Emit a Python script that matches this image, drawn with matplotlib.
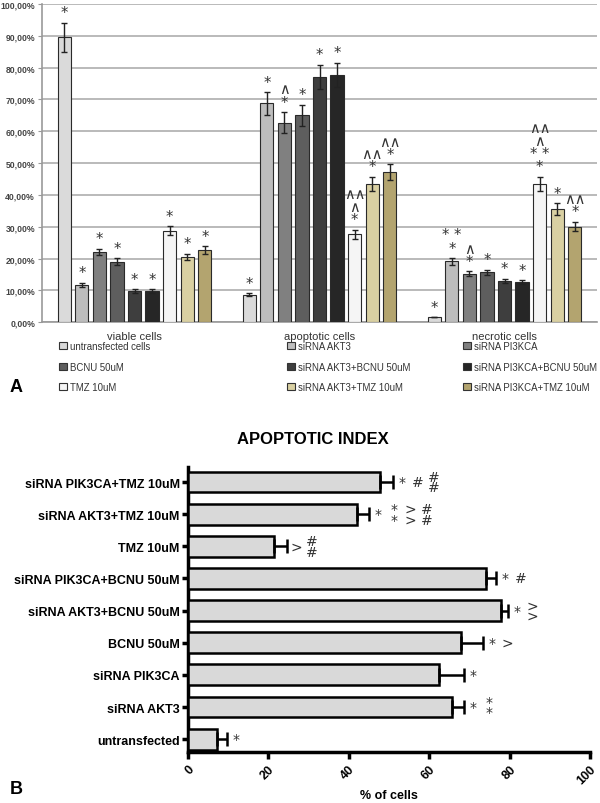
import numpy as np
import matplotlib
matplotlib.use("Agg")
import matplotlib.pyplot as plt
from matplotlib.patches import Patch

# ---- panel A data ----
groups = ["viable cells", "apoptotic cells", "necrotic cells"]
series = ["untransfected cells", "siRNA AKT3", "siRNA PI3KCA",
          "BCNU 50uM", "siRNA AKT3+BCNU 50uM", "siRNA PI3KCA+BCNU 50uM",
          "TMZ 10uM", "siRNA AKT3+TMZ 10uM", "siRNA PI3KCA+TMZ 10uM"]
colors = ["#dadada", "#bdbdbd", "#808080", "#5e5e5e", "#3e3e3e",
          "#262626", "#f5f5f5", "#d9d0a2", "#b3a46f"]
# values per series: [viable, apoptotic, necrotic]
vals = [
    [89.5, 8.7, 1.5],
    [11.7, 68.7, 19.1],
    [22.0, 62.7, 15.2],
    [19.0, 65.0, 15.7],
    [9.7, 77.0, 13.0],
    [9.7, 77.6, 12.6],
    [28.8, 27.6, 43.4],
    [20.5, 43.4, 35.6],
    [22.6, 47.2, 30.0],
]
errs = [
    [4.6, 0.4, 0.0],
    [0.6, 3.5, 1.0],
    [1.0, 3.3, 0.8],
    [1.1, 3.3, 0.8],
    [0.6, 3.8, 0.6],
    [0.6, 3.8, 0.6],
    [1.4, 1.5, 2.3],
    [1.0, 2.2, 1.8],
    [1.2, 2.4, 1.5],
]
marks = [
    ["*", "*", "*"],
    ["*", "*", "* *\n*"],
    ["*", "∧\n*", "∧\n*"],
    ["*", "*", "*"],
    ["*", "*", "*"],
    ["*", "*", "*"],
    ["*", "∧∧\n∧\n*", "∧∧\n∧\n* *\n*"],
    ["*", "∧∧\n*", "*"],
    ["*", "∧∧\n*", "∧∧\n*"],
]

# ---- panel B data ----
b_labels = ["untransfected", "siRNA AKT3", "siRNA PIK3CA", "BCNU 50uM",
            "siRNA AKT3+BCNU 50uM", "siRNA PIK3CA+BCNU 50uM", "TMZ 10uM",
            "siRNA AKT3+TMZ 10uM", "siRNA PIK3CA+TMZ 10uM"]
b_vals = [7.1, 65.6, 62.5, 67.9, 77.9, 74.1, 21.4, 42.0, 47.8]
b_errs = [2.5, 3.1, 6.1, 5.4, 1.6, 2.5, 3.2, 3.1, 3.2]
b_marks = [
    ["*"],
    ["*", "*\n*"],
    ["*"],
    ["*", ">"],
    ["*", ">\n>"],
    ["*", "#"],
    [">", "#\n#"],
    ["*", "*\n*", ">\n>", "#\n#"],
    ["*", "#", "#\n#"],
]

fig = plt.figure(figsize=(6, 8.04), dpi=100)

# ---------------- panel A ----------------
ax = fig.add_axes([0.07, 0.598, 0.925, 0.396])
n = len(series)
step = 0.095
width = 0.072
x = np.arange(len(groups))
for i in range(n):
    xi = x + (i - (n - 1) / 2) * step
    ax.bar(xi, vals[i], width, color=colors[i], edgecolor="#2a2a2a",
           linewidth=0.8, zorder=3)
    ax.errorbar(xi, vals[i], yerr=errs[i], fmt="none", ecolor="#222222",
                elinewidth=1.0, capsize=2.5, capthick=1.0, zorder=4)
    for j in range(len(groups)):
        ax.text(xi[j], vals[i][j] + errs[i][j] + 0.8, marks[i][j],
                ha="center", va="bottom", fontsize=10.5, color="#333333",
                linespacing=0.85, zorder=5)

ax.set_xlim(-0.5, 2.5)
ax.set_ylim(0, 100)
ax.set_yticks(np.arange(0, 101, 10))
ax.set_yticklabels(["%d,00%%" % v for v in range(0, 101, 10)],
                   fontsize=6.2, color="#444444", family="Liberation Sans",
                   fontweight="bold")
ax.set_xticks(x)
ax.set_xticklabels(groups, fontsize=8, color="#333333",
                   family="Liberation Sans")
ax.tick_params(axis="x", length=0, pad=6)
ax.tick_params(axis="y", length=3, color="#999999", pad=2)
ax.yaxis.grid(True, color="#b4b4b4", linewidth=1.3, zorder=0)
ax.set_axisbelow(True)
for s in ["top", "right"]:
    ax.spines[s].set_visible(False)
for s in ["left", "bottom"]:
    ax.spines[s].set_color("#999999")
    ax.spines[s].set_linewidth(1.2)

handles = [Patch(facecolor=c, edgecolor="#333333", linewidth=0.8) for c in colors]
col_x = [59 / 600, 287 / 600, 463 / 600]
for k in range(3):
    idx = [k, k + 3, k + 6]
    leg = fig.legend([handles[i] for i in idx], [series[i] for i in idx],
                     loc="upper left", bbox_to_anchor=(col_x[k], 1 - 342 / 804),
                     frameon=False, handlelength=0.8,
                     prop={"family": "Liberation Sans", "size": 6.9},
                     handleheight=0.8, handletextpad=0.3, labelspacing=1.1,
                     borderpad=0, borderaxespad=0)
    for t in leg.get_texts():
        t.set_color("#333333")

fig.text(10 / 600, 1 - 388 / 804, "A", fontsize=13, fontweight="bold",
         family="Liberation Sans", va="center")

# ---------------- panel B ----------------
bx = fig.add_axes([0.3133, 0.0634, 0.67, 0.3546])
y = np.arange(len(b_labels))
bx.barh(y, b_vals, height=0.65, color="#d9d9d9", edgecolor="black",
        linewidth=1.8, zorder=3)
bx.errorbar(b_vals, y, xerr=[np.zeros(len(b_errs)), b_errs], fmt="none",
            ecolor="black", elinewidth=1.8, capsize=4.7, capthick=1.8, zorder=4)
px = 100 / 402.0  # data units per pixel
for i in range(len(b_labels)):
    xpos = b_vals[i] + b_errs[i] + 9 * px
    for tok in b_marks[i]:
        bx.text(xpos, y[i], tok, ha="center", va="center", fontsize=10,
                color="#333333", linespacing=0.7, zorder=5,
                family="DejaVu Sans")
        xpos += 16 * px

bx.set_xlim(0, 100)
bx.set_ylim(-0.4, 8.47)
bx.set_yticks(y)
bx.set_yticklabels(b_labels, fontsize=9, fontweight="bold",
                   family="Liberation Sans")
bx.set_xticks(np.arange(0, 101, 20))
bx.set_xticklabels([str(v) for v in range(0, 101, 20)], rotation=45,
                   fontsize=9, fontweight="bold", family="Liberation Sans",
                   ha="right", rotation_mode="anchor")
bx.tick_params(axis="y", length=4, width=2.5, pad=2)
bx.tick_params(axis="x", length=5, width=2.5, pad=3)
for s in ["top", "right"]:
    bx.spines[s].set_visible(False)
for s in ["left", "bottom"]:
    bx.spines[s].set_linewidth(2.5)
bx.set_xlabel("% of cells", fontsize=9, fontweight="bold",
              family="Liberation Sans", labelpad=2)

fig.text(313 / 600, 1 - 440 / 804, "APOPTOTIC INDEX", fontsize=12,
         fontweight="bold", family="Liberation Sans", ha="center", va="center")
fig.text(10 / 600, 1 - 790 / 804, "B", fontsize=13, fontweight="bold",
         family="Liberation Sans", va="center")

fig.savefig("out.png", dpi=100)
